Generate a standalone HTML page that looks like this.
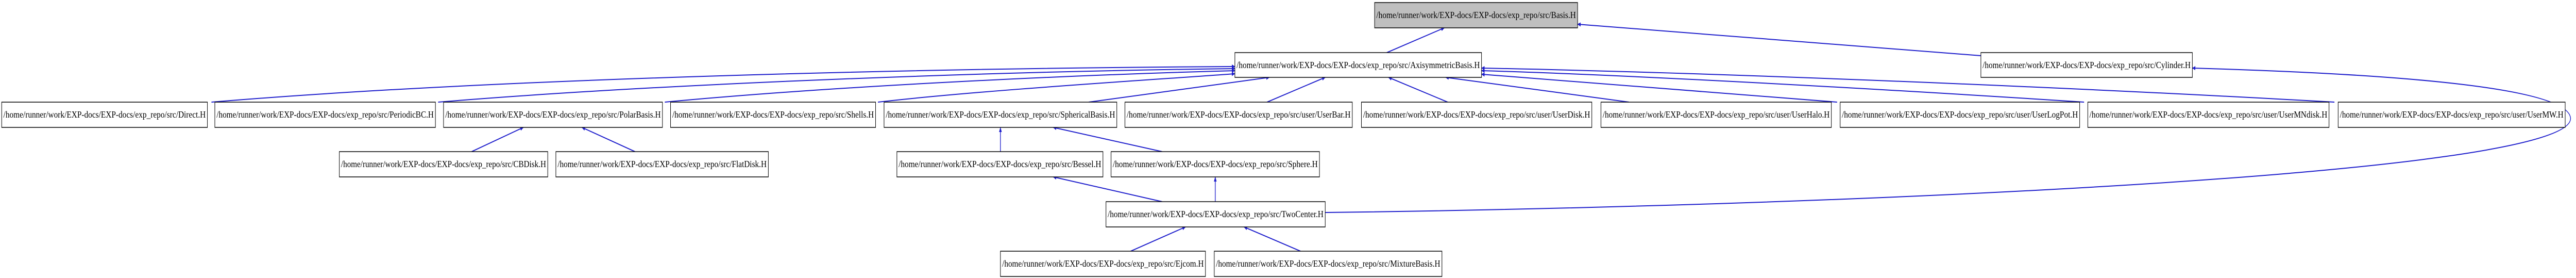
<!DOCTYPE html>
<html><head><meta charset="utf-8"><style>html,body{margin:0;padding:0;background:#fff;width:100%;height:100%;overflow:hidden}svg{display:block;position:fixed;left:0;top:0;width:100vw;height:100vh}</style></head>
<body>
<svg viewBox="0 0 7614 539" preserveAspectRatio="none" xmlns="http://www.w3.org/2000/svg">
<defs><marker id="a" markerWidth="10" markerHeight="8" refX="9" refY="4" orient="auto" markerUnits="userSpaceOnUse"><path d="M0,0 L10,4 L0,8 z" fill="#1e1ecc"/></marker></defs>
<g fill="none" stroke="#1e1ecc" stroke-width="2" marker-end="url(#a)">
<path d="M4099,102 L4269,54"/>
<path d="M5855,108 L4663,47"/>
<path d="M625,198 C1500,150 2800,132 3650,129"/>
<path d="M1295,198 C2000,160 3000,138 3650,133"/>
<path d="M1965,198 C2500,165 3200,145 3650,137"/>
<path d="M2595,198 C2900,175 3400,155 3650,143"/>
<path d="M3218,198 L3752,150"/>
<path d="M3745,198 L3917,150"/>
<path d="M4279,198 L4104,150"/>
<path d="M4815,198 L4273,150"/>
<path d="M5430,198 L4379,144"/>
<path d="M6160,198 C5500,170 4800,145 4379,137"/>
<path d="M6900,198 C6000,165 5000,140 4379,132"/>
<path d="M1394,294 L1547,247"/>
<path d="M1877,294 L1720,247"/>
<path d="M2957,294 L2957,247"/>
<path d="M3435,294 L3113,247"/>
<path d="M3435,391 L3113,343"/>
<path d="M3592,391 L3592,343"/>
<path d="M3342,487 L3504,440"/>
<path d="M3844,487 L3677,440"/>
<path d="M3917,412 C5400,400 7595,340 7598,230 C7595,160 6900,140 6480,132"/>
</g>
<g stroke="#000" stroke-width="1.5">
<rect x="4063" y="5" width="600" height="49" fill="#bfbfbf"/>
<rect x="3650" y="102" width="729" height="48" fill="#fff"/>
<rect x="5855" y="102" width="625" height="48" fill="#fff"/>
<rect x="5" y="198" width="608" height="49" fill="#fff"/>
<rect x="635" y="198" width="652" height="49" fill="#fff"/>
<rect x="1311" y="198" width="647" height="49" fill="#fff"/>
<rect x="1982" y="198" width="606" height="49" fill="#fff"/>
<rect x="2613" y="198" width="688" height="49" fill="#fff"/>
<rect x="3325" y="198" width="672" height="49" fill="#fff"/>
<rect x="4024" y="198" width="681" height="49" fill="#fff"/>
<rect x="4732" y="198" width="681" height="49" fill="#fff"/>
<rect x="5439" y="198" width="708" height="49" fill="#fff"/>
<rect x="6171" y="198" width="713" height="49" fill="#fff"/>
<rect x="6911" y="198" width="671" height="49" fill="#fff"/>
<rect x="1003" y="294" width="616" height="49" fill="#fff"/>
<rect x="1643" y="294" width="628" height="49" fill="#fff"/>
<rect x="2651" y="294" width="609" height="49" fill="#fff"/>
<rect x="3284" y="294" width="616" height="49" fill="#fff"/>
<rect x="3269" y="391" width="648" height="49" fill="#fff"/>
<rect x="2957" y="487" width="606" height="49" fill="#fff"/>
<rect x="3589" y="487" width="673" height="49" fill="#fff"/>
</g>
<g font-family="Liberation Serif, serif" font-size="18" fill="#000">
<text x="4068" y="35" textLength="590" lengthAdjust="spacingAndGlyphs">/home/runner/work/EXP-docs/EXP-docs/exp_repo/src/Basis.H</text>
<text x="3655" y="132" textLength="719" lengthAdjust="spacingAndGlyphs">/home/runner/work/EXP-docs/EXP-docs/exp_repo/src/AxisymmetricBasis.H</text>
<text x="5860" y="132" textLength="615" lengthAdjust="spacingAndGlyphs">/home/runner/work/EXP-docs/EXP-docs/exp_repo/src/Cylinder.H</text>
<text x="10" y="228" textLength="598" lengthAdjust="spacingAndGlyphs">/home/runner/work/EXP-docs/EXP-docs/exp_repo/src/Direct.H</text>
<text x="640" y="228" textLength="642" lengthAdjust="spacingAndGlyphs">/home/runner/work/EXP-docs/EXP-docs/exp_repo/src/PeriodicBC.H</text>
<text x="1316" y="228" textLength="637" lengthAdjust="spacingAndGlyphs">/home/runner/work/EXP-docs/EXP-docs/exp_repo/src/PolarBasis.H</text>
<text x="1987" y="228" textLength="596" lengthAdjust="spacingAndGlyphs">/home/runner/work/EXP-docs/EXP-docs/exp_repo/src/Shells.H</text>
<text x="2618" y="228" textLength="678" lengthAdjust="spacingAndGlyphs">/home/runner/work/EXP-docs/EXP-docs/exp_repo/src/SphericalBasis.H</text>
<text x="3330" y="228" textLength="662" lengthAdjust="spacingAndGlyphs">/home/runner/work/EXP-docs/EXP-docs/exp_repo/src/user/UserBar.H</text>
<text x="4029" y="228" textLength="671" lengthAdjust="spacingAndGlyphs">/home/runner/work/EXP-docs/EXP-docs/exp_repo/src/user/UserDisk.H</text>
<text x="4737" y="228" textLength="671" lengthAdjust="spacingAndGlyphs">/home/runner/work/EXP-docs/EXP-docs/exp_repo/src/user/UserHalo.H</text>
<text x="5444" y="228" textLength="698" lengthAdjust="spacingAndGlyphs">/home/runner/work/EXP-docs/EXP-docs/exp_repo/src/user/UserLogPot.H</text>
<text x="6176" y="228" textLength="703" lengthAdjust="spacingAndGlyphs">/home/runner/work/EXP-docs/EXP-docs/exp_repo/src/user/UserMNdisk.H</text>
<text x="6916" y="228" textLength="661" lengthAdjust="spacingAndGlyphs">/home/runner/work/EXP-docs/EXP-docs/exp_repo/src/user/UserMW.H</text>
<text x="1008" y="324" textLength="606" lengthAdjust="spacingAndGlyphs">/home/runner/work/EXP-docs/EXP-docs/exp_repo/src/CBDisk.H</text>
<text x="1648" y="324" textLength="618" lengthAdjust="spacingAndGlyphs">/home/runner/work/EXP-docs/EXP-docs/exp_repo/src/FlatDisk.H</text>
<text x="2656" y="324" textLength="599" lengthAdjust="spacingAndGlyphs">/home/runner/work/EXP-docs/EXP-docs/exp_repo/src/Bessel.H</text>
<text x="3289" y="324" textLength="606" lengthAdjust="spacingAndGlyphs">/home/runner/work/EXP-docs/EXP-docs/exp_repo/src/Sphere.H</text>
<text x="3274" y="421" textLength="638" lengthAdjust="spacingAndGlyphs">/home/runner/work/EXP-docs/EXP-docs/exp_repo/src/TwoCenter.H</text>
<text x="2962" y="517" textLength="596" lengthAdjust="spacingAndGlyphs">/home/runner/work/EXP-docs/EXP-docs/exp_repo/src/Ejcom.H</text>
<text x="3594" y="517" textLength="663" lengthAdjust="spacingAndGlyphs">/home/runner/work/EXP-docs/EXP-docs/exp_repo/src/MixtureBasis.H</text>
</g>
</svg>
</body></html>
